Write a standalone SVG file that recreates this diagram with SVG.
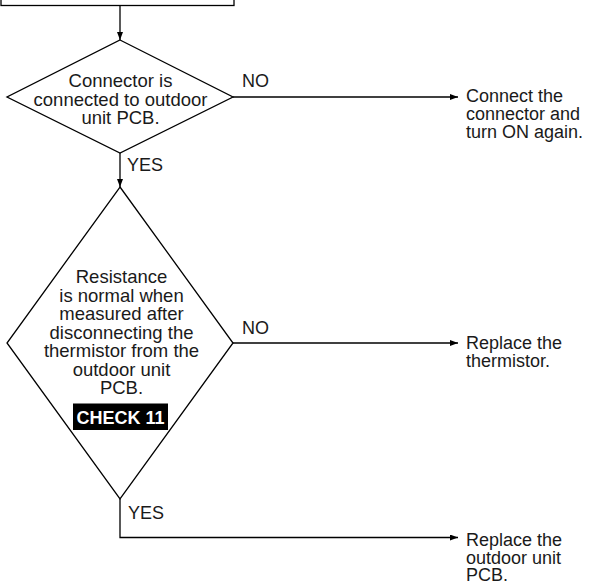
<svg xmlns="http://www.w3.org/2000/svg" width="589" height="584" viewBox="0 0 589 584">
<defs>
<style>
.shape{fill:#fff;stroke:#000;stroke-width:1.3}
.line{fill:none;stroke:#000;stroke-width:1.3}
.t{font-family:"Liberation Sans",Arial,Helvetica,sans-serif;font-size:18.5px;fill:#1a1a1a}
.c{text-anchor:middle}
.s{font-size:18px}
.chk{font-family:"Liberation Sans",Arial,Helvetica,sans-serif;font-size:18px;font-weight:bold;fill:#fff;text-anchor:middle}
</style>
<marker id="ah" viewBox="0 0 8 6" refX="8" refY="3" markerWidth="8" markerHeight="6" markerUnits="userSpaceOnUse" orient="auto">
<path d="M0,0 L8,3 L0,6 Z" fill="#000"/>
</marker>
</defs>
<rect width="589" height="584" fill="#fff"/>
<g id="start-box">
<rect class="shape" x="1" y="-20" width="233" height="25.5"/>
</g>
<g id="connectors">
<path class="line" d="M120,5.5 V40" marker-end="url(#ah)"/>
<path class="line" d="M120,153 V187" marker-end="url(#ah)"/>
<path class="line" d="M233,97 H458" marker-end="url(#ah)"/>
<path class="line" d="M233,343 H458" marker-end="url(#ah)"/>
<path class="line" d="M120,499 V537.5 H458" marker-end="url(#ah)"/>
<text class="t s" x="242" y="87">NO</text>
<text class="t s" x="127" y="171">YES</text>
<text class="t s" x="242" y="334">NO</text>
<text class="t s" x="128" y="519">YES</text>
</g>
<g id="decision-connector">
<polygon class="shape" points="120,40 233,97 120,153 7,97"/>
<text class="t c" x="120.5" y="87">Connector is</text>
<text class="t c" x="120.5" y="105.5">connected to outdoor</text>
<text class="t c" x="120.5" y="124">unit PCB.</text>
</g>
<g id="decision-resistance">
<polygon class="shape" points="120,187 233,343 120,499 7,343"/>
<text class="t c" x="121.5" y="283">Resistance</text>
<text class="t c" x="121.5" y="301.5">is normal when</text>
<text class="t c" x="121.5" y="320">measured after</text>
<text class="t c" x="121.5" y="338.5">disconnecting the</text>
<text class="t c" x="121.5" y="357">thermistor from the</text>
<text class="t c" x="121.5" y="375.5">outdoor unit</text>
<text class="t c" x="121.5" y="394">PCB.</text>
<rect x="73" y="403.5" width="95" height="26.5" fill="#000"/>
<text class="chk" x="120.5" y="423.5">CHECK 11</text>
</g>
<g id="action-connect">
<text class="t s" x="466" y="101.5">Connect the</text>
<text class="t s" x="466" y="119.5">connector and</text>
<text class="t s" x="466" y="137.5">turn ON again.</text>
</g>
<g id="action-thermistor">
<text class="t s" x="466" y="349">Replace the</text>
<text class="t s" x="466" y="367">thermistor.</text>
</g>
<g id="action-pcb">
<text class="t s" x="466" y="546">Replace the</text>
<text class="t s" x="466" y="563.5">outdoor unit</text>
<text class="t s" x="466" y="581">PCB.</text>
</g>
</svg>
